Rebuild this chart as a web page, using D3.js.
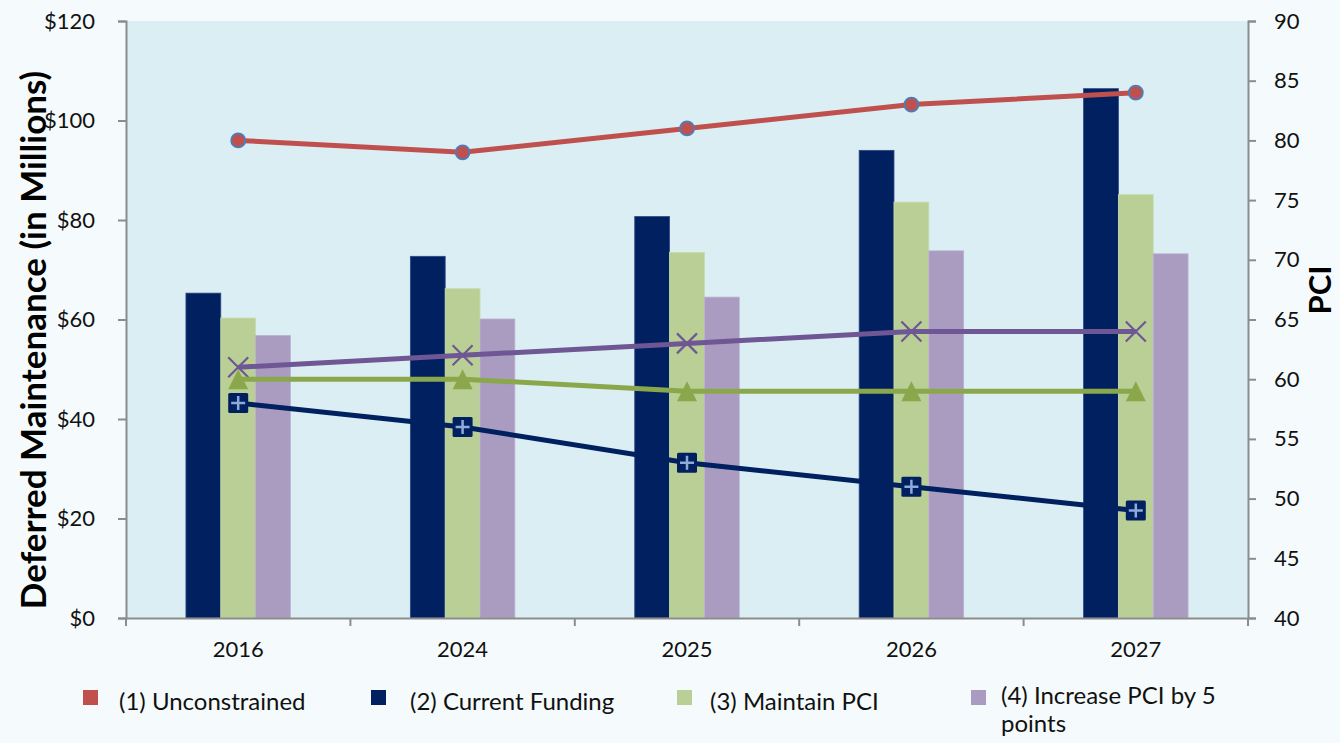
<!DOCTYPE html>
<html>
<head>
<meta charset="utf-8">
<script src="https://cdn.jsdelivr.net/npm/d3@7"></script>
<style>
  body { margin: 0; background: #f5fbfc; }
  svg { display: block; font-family: Lato, "Open Sans", sans-serif; }
</style>
</head>
<body>
<div id="chart"></div>
<script>
// chart data
const years = ['2016', '2024', '2025', '2026', '2027'];

// bars, left axis ($ millions)
const currentFundingBars = [65.3, 72.7, 80.7, 94.0, 106.4];
const maintainBars = [60.3, 66.2, 73.5, 83.6, 85.1];
const increaseBars = [56.8, 60.1, 64.5, 73.8, 73.2];

// lines, right axis (PCI)
const unconstrainedPCI = [80, 79, 81, 83, 84];
const currentFundingPCI = [58, 56, 53, 51, 49];
const maintainPCI = [60, 60, 59, 59, 59];
const increasePCI = [61, 62, 63, 64, 64];

const leftTicks = [0, 20, 40, 60, 80, 100, 120];
const rightTicks = [40, 45, 50, 55, 60, 65, 70, 75, 80, 85, 90];

const legendLabels = ['(1) Unconstrained', '(2) Current Funding', '(3) Maintain PCI', '(4) Increase PCI by 5 points'];

const width = 1340;
const height = 743;
const margin = { top: 21, right: 92, bottom: 125, left: 126 };

const colors = {
    red: '#c0504d',
    navy: '#002060',
    green: '#b9cf96',
    greenLine: '#8aa84b',
    purple: '#aa9bc1',
    purpleLine: '#6e5794',
    axis: '#8c8c8c'
};

const svg = d3.select('#chart')
    .append('svg')
    .attr('width', width)
    .attr('height', height);

svg.append('rect')
    .attr('width', width)
    .attr('height', height)
    .attr('fill', '#f5fbfc');

const x = d3.scaleBand()
    .domain(years)
    .range([margin.left, width - margin.right]);

const groupWidth = 104.5;
const xSub = d3.scaleBand()
    .domain(['current', 'maintain', 'increase'])
    .range([0, groupWidth]);

const yLeft = d3.scaleLinear()
    .domain([0, 120])
    .range([height - margin.bottom, margin.top]);

const yRight = d3.scaleLinear()
    .domain([40, 90])
    .range([height - margin.bottom, margin.top]);

// plot area
svg.append('rect')
    .attr('x', margin.left)
    .attr('y', margin.top)
    .attr('width', width - margin.left - margin.right)
    .attr('height', height - margin.top - margin.bottom)
    .attr('fill', '#dbeef4');

// bars
const barSeries = [
    { key: 'current', values: currentFundingBars, color: colors.navy, edge: '#2c4a86' },
    { key: 'maintain', values: maintainBars, color: colors.green, edge: '#c9dcae' },
    { key: 'increase', values: increaseBars, color: colors.purple, edge: '#bcb1cf' }
];

barSeries.forEach(s => {
    svg.append('g')
        .selectAll('rect')
        .data(s.values)
        .enter()
        .append('rect')
        .attr('x', (d, i) => x(years[i]) + x.bandwidth() / 2 - groupWidth / 2 + xSub(s.key))
        .attr('y', d => yLeft(d))
        .attr('width', xSub.bandwidth())
        .attr('height', d => yLeft(0) - yLeft(d))
        .attr('fill', s.color)
        .attr('stroke', s.edge)
        .attr('stroke-width', 0.8);
});

// axes
const leftAxis = svg.append('g')
    .attr('transform', `translate(${margin.left},0)`)
    .call(d3.axisLeft(yLeft).tickValues(leftTicks).tickSize(8).tickPadding(23).tickFormat(d => '$' + d));

const rightAxis = svg.append('g')
    .attr('transform', `translate(${width - margin.right},0)`)
    .call(d3.axisRight(yRight).tickValues(rightTicks).tickSize(8).tickPadding(18));

const bottomAxis = svg.append('g')
    .attr('transform', `translate(0,${height - margin.bottom})`)
    .call(d3.axisBottom(x).tickSize(0).tickPadding(23));

// category boundary ticks
bottomAxis.selectAll('.boundary')
    .data(years.concat(['end']))
    .enter()
    .append('line')
    .attr('x1', (d, i) => margin.left + i * x.step())
    .attr('x2', (d, i) => margin.left + i * x.step())
    .attr('y1', 0)
    .attr('y2', 8)
    .attr('stroke', colors.axis)
    .attr('stroke-width', 2);

[leftAxis, rightAxis, bottomAxis].forEach(a => {
    a.attr('font-family', 'Lato, "Open Sans", sans-serif');
    a.select('.domain').attr('stroke', colors.axis).attr('stroke-width', 2);
    a.selectAll('.tick line').attr('stroke', colors.axis).attr('stroke-width', 2);
    a.selectAll('.tick text')
        .attr('fill', '#111')
        .style('font-size', '22px');
});

// lines
const lineGen = d3.line()
    .x((d, i) => x(years[i]) + x.bandwidth() / 2)
    .y(d => yRight(d));

const lineSeries = [
    { values: unconstrainedPCI, color: colors.red, marker: 'circle' },
    { values: increasePCI, color: colors.purpleLine, marker: 'x' },
    { values: maintainPCI, color: colors.greenLine, marker: 'triangle' },
    { values: currentFundingPCI, color: colors.navy, marker: 'square' }
];

lineSeries.forEach(s => {
    svg.append('path')
        .datum(s.values)
        .attr('d', lineGen)
        .attr('fill', 'none')
        .attr('stroke', s.color)
        .attr('stroke-width', 5);

    const markers = svg.append('g')
        .selectAll('g')
        .data(s.values)
        .enter()
        .append('g')
        .attr('transform', (d, i) => `translate(${x(years[i]) + x.bandwidth() / 2},${yRight(d)})`);

    if (s.marker === 'circle') {
        markers.append('circle')
            .attr('r', 7)
            .attr('fill', s.color)
            .attr('stroke', '#4a7ebb')
            .attr('stroke-width', 1.8);
    } else if (s.marker === 'square') {
        markers.append('rect')
            .attr('x', -10).attr('y', -10)
            .attr('width', 20).attr('height', 20)
            .attr('rx', 1.5)
            .attr('fill', s.color);
        markers.append('path')
            .attr('d', 'M-7,0H7M0,-7V7')
            .attr('stroke', '#8eaadb')
            .attr('stroke-width', 2.5);
    } else if (s.marker === 'triangle') {
        markers.append('path')
            .attr('d', 'M0,-10L10,10L-10,10Z')
            .attr('fill', s.color);
    } else {
        markers.append('path')
            .attr('d', 'M-10,-10L10,10M10,-10L-10,10')
            .attr('stroke', s.color)
            .attr('stroke-width', 2.2);
    }
});

// axis titles
svg.append('text')
    .attr('transform', `translate(46,340) rotate(-90)`)
    .attr('text-anchor', 'middle')
    .style('font-size', '35px')
    .style('font-weight', 'bold')
    .attr('fill', '#000')
    .text('Deferred Maintenance (in Millions)');

svg.append('text')
    .attr('transform', `translate(1331,290) rotate(-90)`)
    .attr('text-anchor', 'middle')
    .style('font-size', '31px')
    .style('font-weight', 'bold')
    .attr('fill', '#000')
    .text('PCI');

// legend
const legendItems = [
    { label: legendLabels[0], color: colors.red, x: 83, tx: 119 },
    { label: legendLabels[1], color: colors.navy, x: 371, tx: 410 },
    { label: legendLabels[2], color: colors.green, x: 677, tx: 710 },
    { label: legendLabels[3], color: colors.purple, x: 971, tx: 1001 }
];

const legend = svg.append('g');

legendItems.forEach((item, i) => {
    legend.append('rect')
        .attr('x', item.x)
        .attr('y', 690)
        .attr('width', 15)
        .attr('height', 15)
        .attr('fill', item.color);
    const t = legend.append('text')
        .style('font-size', '24px')
        .attr('fill', '#111');
    if (i === 3) {
        t.append('tspan').attr('x', item.tx).attr('y', 704).text('(4) Increase PCI by 5');
        t.append('tspan').attr('x', item.tx).attr('y', 732).text('points');
    } else {
        t.attr('x', item.tx).attr('y', 710).text(item.label);
    }
});
</script>
</body>
</html>
